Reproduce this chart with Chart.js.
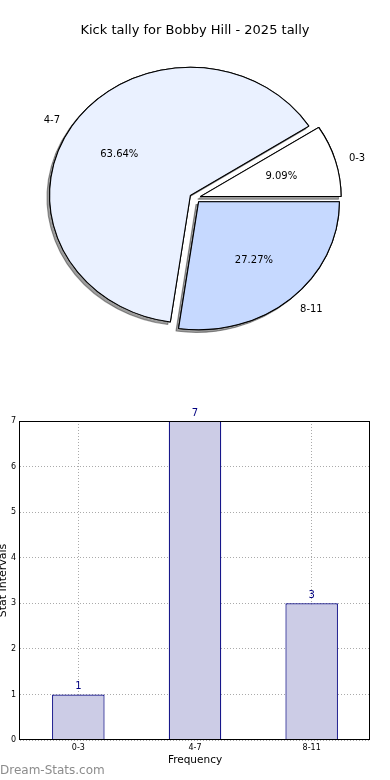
<!DOCTYPE html>
<html>
<head>
<meta charset="utf-8">
<script src="https://cdn.jsdelivr.net/npm/chart.js@4.4.1/dist/chart.umd.min.js"></script>
<style>
  html, body { margin: 0; padding: 0; background: #fff; }
  body { width: 390px; height: 780px; position: relative; overflow: hidden; font-family: "DejaVu Sans", sans-serif; }
  .box { position: absolute; left: 0; width: 390px; height: 390px; }
  #pieBox { top: 0; }
  #barBox { top: 390px; }
  .watermark { position: absolute; left: 0; top: 763px; font-size: 12px; line-height: 14px; color: #8c8c8c; }
</style>
</head>
<body>
<div class="box" id="pieBox"><canvas id="pieChart" width="390" height="390"></canvas></div>
<div class="box" id="barBox"><canvas id="barChart" width="390" height="390"></canvas></div>
<div class="watermark">Dream-Stats.com</div>
<script>
const titleText = 'Kick tally for Bobby Hill - 2025 tally';
const categories = ['0-3', '4-7', '8-11'];
const counts = [1, 7, 3];
const sliceColors = ['#ffffff', '#eaf1ff', '#c6d9ff'];
const yTicks = [0, 1, 2, 3, 4, 5, 6, 7];
const xTitle = 'Frequency';
const yTitle = 'Stat Intervals';

Chart.defaults.font.family = '"DejaVu Sans", sans-serif';

const total = counts.reduce((a, b) => a + b, 0);
// chart.js goes clockwise, the original goes counter-clockwise from 3 o'clock
const pieOrder = [0, 2, 1];
const EXPLODE = 5;   // px pushed out along the mid angle
const SX = 1.1;      // the pie is a bit wider than tall

const piePlugin = {
    id: 'mplPie',
    beforeDatasetsDraw(chart) {
        const ctx = chart.ctx;
        const arcs = chart.getDatasetMeta(0).data;
        const cx = arcs[0].x, cy = arcs[0].y;
        // first pass leaves the shadows, second pass the clean wedges
        [true, false].forEach(shadow => {
            arcs.forEach(arc => {
                const mid = (arc.startAngle + arc.endAngle) / 2;
                ctx.save();
                ctx.translate(cx, cy);
                ctx.scale(SX, 1);
                ctx.translate(-cx, -cy);
                ctx.translate(Math.cos(mid) * EXPLODE, Math.sin(mid) * EXPLODE);
                if (shadow) {
                    ctx.shadowColor = 'rgba(0,0,0,0.38)';
                    ctx.shadowOffsetX = -2.6;
                    ctx.shadowOffsetY = 2.6;
                }
                arc.draw(ctx);
                ctx.restore();
            });
        });
        return false;
    },
    afterDraw(chart) {
        const ctx = chart.ctx;
        chart.getDatasetMeta(0).data.forEach((arc, i) => {
            const k = pieOrder[i];
            const mid = (arc.startAngle + arc.endAngle) / 2;
            const c = Math.cos(mid), s = Math.sin(mid);
            const R = arc.outerRadius;
            const at = f => [arc.x + SX * c * (EXPLODE + f * R), arc.y + s * (EXPLODE + f * R)];
            ctx.save();
            ctx.font = '10px "DejaVu Sans"';
            ctx.fillStyle = '#000';
            ctx.textBaseline = 'middle';
            let [lx, ly] = at(1.1);
            ctx.textAlign = c < 0 ? 'right' : 'left';
            ctx.fillText(categories[k], lx, ly + 1);
            [lx, ly] = at(0.6);
            ctx.textAlign = 'center';
            ctx.fillText((counts[k] / total * 100).toFixed(2) + '%', lx, ly + 1);
            ctx.restore();
        });
    }
};

new Chart(document.getElementById('pieChart'), {
    type: 'pie',
    data: {
        labels: pieOrder.map(i => categories[i]),
        datasets: [{
            data: pieOrder.map(i => counts[i]),
            backgroundColor: pieOrder.map(i => sliceColors[i]),
            borderColor: '#000', borderWidth: 1, hoverBorderWidth: 1,
            offset: 0, hoverOffset: 0
        }]
    },
    options: {
        responsive: false, animation: false, events: [],
        rotation: 90 - 360 * counts[0] / total,
        layout: { padding: { top: 0, bottom: 63.5, left: 0, right: 0 } },
        plugins: {
            legend: { display: false },
            tooltip: { enabled: false },
            title: {
                display: true, text: titleText, color: '#000',
                font: { size: 13, weight: 'normal' },
                padding: { top: 23, bottom: 30.9 }
            }
        }
    },
    plugins: [piePlugin]
});

const framePlugin = {
    id: 'frame',
    afterDatasetsDraw(chart) {
        const { ctx, chartArea: a } = chart;
        ctx.save();
        ctx.strokeStyle = '#000';
        ctx.lineWidth = 1;
        ctx.strokeRect(a.left - 0.5, a.top + 0.5, a.width, a.height - 1);
        // counts above the bars
        ctx.font = '10px "DejaVu Sans"';
        ctx.fillStyle = '#000080';
        ctx.textAlign = 'center';
        ctx.textBaseline = 'alphabetic';
        chart.getDatasetMeta(0).data.forEach((bar, i) => {
            ctx.fillText(String(counts[i]), bar.x, bar.y - 5);
        });
        ctx.restore();
    }
};

new Chart(document.getElementById('barChart'), {
    type: 'bar',
    data: {
        labels: categories,
        datasets: [{
            data: counts,
            backgroundColor: '#CCCCE6', borderColor: '#000080', borderWidth: 1.2,
            barPercentage: 0.45, categoryPercentage: 1
        }]
    },
    options: {
        responsive: false, animation: false, events: [],
        layout: { padding: { top: 31, right: 20, left: 0, bottom: 0 } },
        plugins: { legend: { display: false }, tooltip: { enabled: false } },
        scales: {
            x: {
                grid: { offset: false, color: '#aaa', drawTicks: false },
                border: { display: false, dash: [1, 2] },
                ticks: { font: { size: 8 }, color: '#000', padding: 3, maxRotation: 0 },
                title: { display: true, text: xTitle, color: '#000', font: { size: 10.5 }, padding: { top: 0, bottom: 13.5 } },
                afterFit(s) { s.height = 40; }
            },
            y: {
                min: 0, max: 7,
                grid: { color: '#aaa', drawTicks: false },
                border: { display: false, dash: [1, 2] },
                ticks: { font: { size: 8 }, color: '#000', padding: 4 },
                afterBuildTicks(s) { s.ticks = yTicks.map(v => ({ value: v })); },
                title: { display: true, text: yTitle, color: '#000', font: { size: 11, lineHeight: 0.6 }, padding: 0 },
                afterFit(s) { s.width = 20; }
            }
        }
    },
    plugins: [framePlugin]
});
</script>
</body>
</html>
